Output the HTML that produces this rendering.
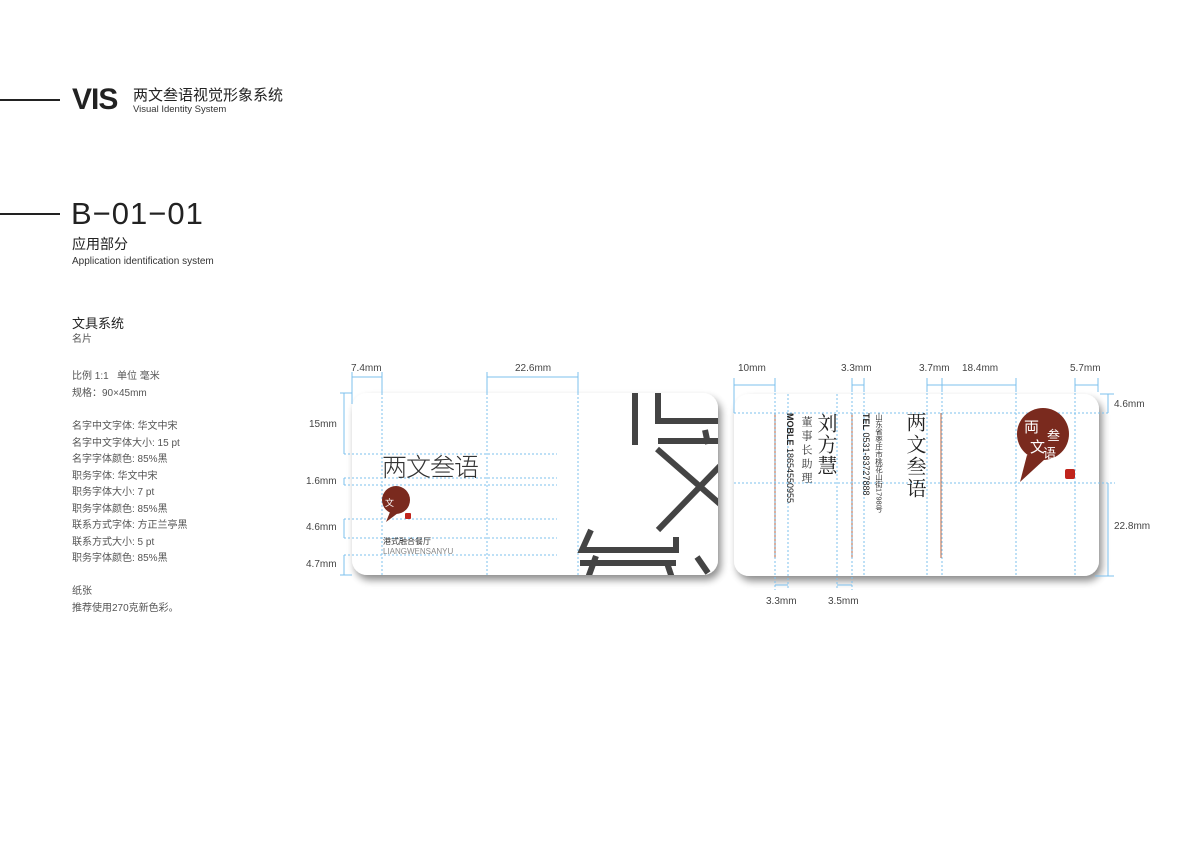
<!DOCTYPE html>
<html><head><meta charset="utf-8">
<style>
body{margin:0;width:1200px;height:848px;background:#fff;position:relative;overflow:hidden;font-family:"Liberation Sans","Noto Sans CJK SC",sans-serif;color:#333}
.a{position:absolute;white-space:nowrap;line-height:1}
.v{position:absolute;writing-mode:vertical-rl;white-space:nowrap;line-height:1}
.dim{position:absolute;font-size:10px;color:#444;white-space:nowrap;line-height:1}
.l{font-size:10px;color:#555;line-height:16.5px}
</style></head><body>
<div class="a" style="left:0;top:99px;width:60px;height:2px;background:#222"></div>
<div class="a" style="left:72px;top:85px;font-size:30px;font-weight:bold;color:#222;letter-spacing:-1px">VIS</div>
<div class="a" style="left:133px;top:88px;font-size:15px;color:#222">两文叁语视觉形象系统</div>
<div class="a" style="left:133px;top:105px;font-size:9.5px;color:#333">Visual Identity System</div>
<div class="a" style="left:0;top:213px;width:60px;height:2px;background:#222"></div>
<div class="a" style="left:71px;top:198px;font-size:31px;color:#222;font-weight:300;letter-spacing:1px">B−01−01</div>
<div class="a" style="left:72px;top:237px;font-size:14px;color:#222">应用部分</div>
<div class="a" style="left:72px;top:257px;font-size:10px;color:#333">Application identification system</div>
<div class="a" style="left:72px;top:317px;font-size:13px;color:#222">文具系统</div>
<div class="a" style="left:72px;top:335px;font-size:10px;color:#555">名片</div>
<div class="a l" style="left:72px;top:369px">比例 1:1 &nbsp; 单位 毫米<br>规格：90×45mm</div>
<div class="a l" style="left:72px;top:419px">名字中文字体: 华文中宋<br>名字中文字体大小: 15 pt<br>名字字体颜色: 85%黑<br>职务字体: 华文中宋<br>职务字体大小: 7 pt<br>职务字体颜色: 85%黑<br>联系方式字体: 方正兰亭黑<br>联系方式大小: 5 pt<br>职务字体颜色: 85%黑</div>
<div class="a l" style="left:72px;top:584px">纸张<br>推荐使用270克新色彩。</div>

<svg class="a" style="left:0;top:0" width="1200" height="848">
<defs>
<filter id="sh" x="-10%" y="-20%" width="125%" height="150%"><feGaussianBlur in="SourceAlpha" stdDeviation="4"/><feOffset dx="3" dy="5"/><feComponentTransfer><feFuncA type="linear" slope="0.45"/></feComponentTransfer><feMerge><feMergeNode/><feMergeNode in="SourceGraphic"/></feMerge></filter>
<clipPath id="c1"><rect x="352" y="393" width="366" height="182" rx="15"/></clipPath>
</defs>
<rect x="352" y="393" width="366" height="182" rx="15" fill="#fff" filter="url(#sh)"/>
<rect x="734" y="394" width="365" height="182" rx="15" fill="#fff" filter="url(#sh)"/>
<g clip-path="url(#c1)" stroke="#444" stroke-width="6" fill="none">
<line x1="635" y1="390" x2="635" y2="445"/>
<path d="M658 390 V421 H720"/>
<line x1="658" y1="441" x2="720" y2="441"/>
<line x1="705" y1="430" x2="708" y2="444"/>
<line x1="657" y1="449" x2="720" y2="504"/>
<line x1="658" y1="530" x2="720" y2="466"/>
<path d="M591 530 L582 550 H676 V537"/>
<line x1="580" y1="563" x2="676" y2="563"/>
<line x1="596" y1="556" x2="588" y2="578"/>
<line x1="667" y1="563" x2="672" y2="578"/>
<line x1="697" y1="557" x2="708" y2="573"/>
</g>
<g stroke="#7cc0ee" stroke-width="1" stroke-dasharray="2,2">
<line x1="382" y1="393" x2="382" y2="575"/><line x1="487" y1="393" x2="487" y2="575"/><line x1="578" y1="393" x2="578" y2="575"/>
<line x1="344" y1="454" x2="557" y2="454"/><line x1="344" y1="478" x2="557" y2="478"/><line x1="344" y1="485" x2="557" y2="485"/>
<line x1="344" y1="519" x2="557" y2="519"/><line x1="344" y1="538" x2="557" y2="538"/><line x1="344" y1="555" x2="557" y2="555"/>
</g>
<g stroke="#7cc0ee" stroke-width="1">
<line x1="352" y1="377" x2="382" y2="377"/><line x1="352" y1="372" x2="352" y2="404"/><line x1="382" y1="372" x2="382" y2="393"/>
<line x1="487" y1="377" x2="578" y2="377"/><line x1="487" y1="372" x2="487" y2="393"/><line x1="578" y1="372" x2="578" y2="393"/>
<line x1="344" y1="393" x2="344" y2="454"/><line x1="340" y1="393" x2="352" y2="393"/>
<line x1="344" y1="478" x2="344" y2="485"/><line x1="344" y1="519" x2="344" y2="538"/><line x1="344" y1="555" x2="344" y2="575"/><line x1="340" y1="575" x2="352" y2="575"/>
</g>
<g stroke="#c8866a" stroke-width="1.3"><line x1="775" y1="413" x2="775" y2="558"/><line x1="852" y1="413" x2="852" y2="558"/><line x1="941" y1="413" x2="941" y2="558"/></g>
<g stroke="#7cc0ee" stroke-width="1" stroke-dasharray="2,2">
<line x1="775" y1="385" x2="775" y2="590"/><line x1="788" y1="394" x2="788" y2="590"/><line x1="837" y1="394" x2="837" y2="590"/><line x1="852" y1="385" x2="852" y2="590"/>
<line x1="864" y1="385" x2="864" y2="576"/><line x1="927" y1="385" x2="927" y2="576"/><line x1="942" y1="385" x2="942" y2="576"/><line x1="1016" y1="385" x2="1016" y2="576"/><line x1="1075" y1="385" x2="1075" y2="576"/>
<line x1="734" y1="413" x2="1110" y2="413"/><line x1="734" y1="483" x2="1115" y2="483"/>
</g>
<g stroke="#7cc0ee" stroke-width="1">
<line x1="734" y1="385" x2="775" y2="385"/><line x1="734" y1="378" x2="734" y2="413"/><line x1="775" y1="378" x2="775" y2="392"/>
<line x1="852" y1="385" x2="864" y2="385"/><line x1="852" y1="378" x2="852" y2="392"/><line x1="864" y1="378" x2="864" y2="392"/>
<line x1="927" y1="385" x2="1016" y2="385"/><line x1="927" y1="378" x2="927" y2="392"/><line x1="942" y1="378" x2="942" y2="392"/><line x1="1016" y1="378" x2="1016" y2="392"/>
<line x1="1075" y1="385" x2="1098" y2="385"/><line x1="1075" y1="378" x2="1075" y2="392"/><line x1="1098" y1="378" x2="1098" y2="392"/>
<line x1="1108" y1="394" x2="1108" y2="413"/><line x1="1100" y1="394" x2="1114" y2="394"/>
<line x1="1108" y1="483" x2="1108" y2="576"/><line x1="1095" y1="576" x2="1114" y2="576"/>
<line x1="775" y1="585" x2="788" y2="585"/><line x1="837" y1="585" x2="852" y2="585"/>
</g>
<circle cx="1043" cy="434" r="26" fill="#7a2a1e"/><path d="M1027 455 L1020 482 L1045 459Z" fill="#7a2a1e"/>
<rect x="1065" y="469" width="10" height="10" rx="2" fill="#c0241c"/>
<text x="1024" y="432" font-size="15" fill="#fff" font-family="Noto Sans CJK SC">両</text>
<text x="1030" y="452" font-size="15" fill="#fff" font-family="Noto Sans CJK SC">文</text>
<text x="1047" y="440" font-size="13" fill="#fff" font-family="Noto Sans CJK SC">叁</text>
<text x="1043" y="458" font-size="13" fill="#fff" font-family="Noto Sans CJK SC">语</text>
<circle cx="396" cy="500" r="14" fill="#7a2a1e"/><path d="M390 512 L386 522 L398 513Z" fill="#7a2a1e"/>
<rect x="405" y="513" width="6" height="6" rx="1" fill="#c0241c"/>
<text x="385" y="506" font-size="9" fill="#fff" font-family="Noto Sans CJK SC">文</text>
</svg>
<div class="a" style="left:382px;top:456px;font-size:25px;color:#333;font-weight:300;letter-spacing:-1px">两文叁语</div>
<div class="a" style="left:383px;top:538px;font-size:8px;color:#333">港式融合餐厅</div>
<div class="a" style="left:383px;top:548px;font-size:8px;color:#888">LIANGWENSANYU</div>

<div class="v" style="left:785px;top:413px;font-size:9px;font-weight:bold;color:#222">MOBLE <span style="font-weight:normal">18654550955</span></div>
<div class="v" style="left:801px;top:416px;font-size:11px;letter-spacing:3px;color:#333;font-family:'Noto Serif CJK SC',serif">董事长助理</div>
<div class="v" style="left:817px;top:413px;font-size:20px;color:#222;letter-spacing:1px;font-family:'Noto Serif CJK SC',serif">刘方慧</div>
<div class="v" style="left:861px;top:413px;font-size:9px;color:#222"><b>TEL</b> 0531-83727888</div>
<div class="v" style="left:875px;top:413px;font-size:7.5px;color:#333">山东省枣庄市桃花山街1798号</div>
<div class="v" style="left:906px;top:412px;font-size:20px;color:#222;letter-spacing:2px;font-family:'Noto Serif CJK SC',serif">两文叁语</div>

<div class="dim" style="left:351px;top:364px">7.4mm</div>
<div class="dim" style="left:515px;top:364px">22.6mm</div>
<div class="dim" style="left:309px;top:420px">15mm</div>
<div class="dim" style="left:306px;top:477px">1.6mm</div>
<div class="dim" style="left:306px;top:523px">4.6mm</div>
<div class="dim" style="left:306px;top:560px">4.7mm</div>
<div class="dim" style="left:738px;top:364px">10mm</div>
<div class="dim" style="left:841px;top:364px">3.3mm</div>
<div class="dim" style="left:919px;top:364px">3.7mm</div>
<div class="dim" style="left:962px;top:364px">18.4mm</div>
<div class="dim" style="left:1070px;top:364px">5.7mm</div>
<div class="dim" style="left:1114px;top:400px">4.6mm</div>
<div class="dim" style="left:1114px;top:522px">22.8mm</div>
<div class="dim" style="left:766px;top:597px">3.3mm</div>
<div class="dim" style="left:828px;top:597px">3.5mm</div>
</body></html>
